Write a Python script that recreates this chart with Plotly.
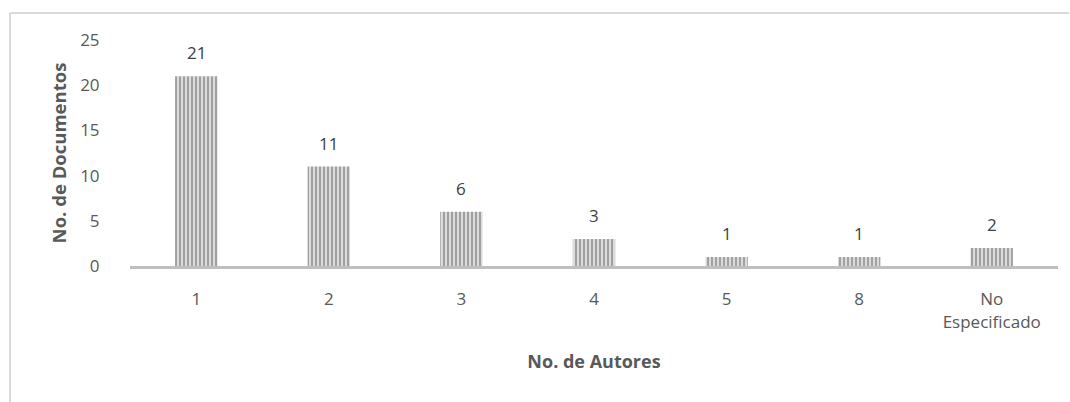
import plotly.graph_objects as go

autores = ["1", "2", "3", "4", "5", "8", "No<br>Especificado"]
documentos = [21, 11, 6, 3, 1, 1, 2]
y_ticks = [0, 5, 10, 15, 20, 25]

FONT = "Open Sans"
TXT = "#595959"

fig = go.Figure()
fig.add_trace(go.Bar(
    x=autores,
    y=documentos,
    marker=dict(
        color="#DCDCDC",
        line=dict(width=0),
        pattern=dict(shape="|", fgcolor="#A0A0A0", bgcolor="#DCDCDC",
                     size=4, solidity=0.5, fillmode="replace"),
    ),
    hoverinfo="skip",
))

# value labels above each bar (category index positions)
for i, val in enumerate(documentos):
    fig.add_annotation(x=i, y=val, text=str(val), showarrow=False,
                       yanchor="bottom", yshift=10,
                       font=dict(family=FONT, size=17, color="#404040"))

# outer chart frame (top and left edges)
fig.add_shape(type="line", xref="paper", yref="paper", x0=-0.1293, x1=1.012,
              y0=1.1195, y1=1.1195, line=dict(color="#D9D9D9", width=2))
fig.add_shape(type="line", xref="paper", yref="paper", x0=-0.1293, x1=-0.1293,
              y0=1.1195, y1=-0.62, line=dict(color="#D9D9D9", width=2))

fig.update_layout(
    width=1070, height=402,
    margin=dict(l=130, r=12, t=40, b=136),
    paper_bgcolor="white", plot_bgcolor="white",
    bargap=0.68,
    showlegend=False,
    font=dict(family=FONT, color=TXT),
    xaxis=dict(
        type="category",
        showline=True, linecolor="#BFBFBF", linewidth=3,
        ticks="outside", ticklen=16, tickcolor="rgba(0,0,0,0)",
        tickfont=dict(family=FONT, size=17, color=TXT),
        title=dict(text="<b>No. de Autores</b>", standoff=24,
                   font=dict(family=FONT, size=18, color=TXT)),
        showgrid=False, zeroline=False,
    ),
    yaxis=dict(
        range=[0, 25], tickvals=y_ticks,
        showgrid=False, zeroline=False, showline=False,
        ticks="outside", ticklen=26, tickcolor="rgba(0,0,0,0)",
        tickfont=dict(family=FONT, size=17, color=TXT),
        title=dict(text="<b>No. de Documentos</b>", standoff=8,
                   font=dict(family=FONT, size=18.5, color=TXT)),
    ),
)

fig.write_html("out.html")
